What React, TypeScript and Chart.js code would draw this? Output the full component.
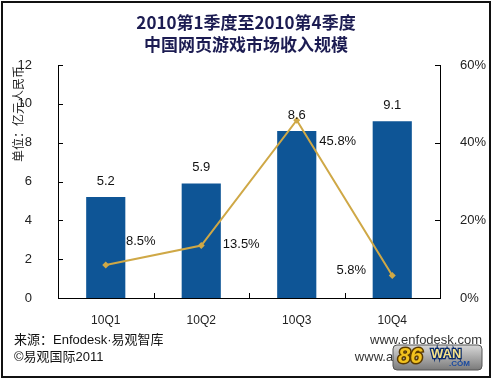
import React, { useEffect, useRef } from "react";
import { Chart, registerables } from "chart.js";

Chart.register(...registerables);

const categories = ["10Q1", "10Q2", "10Q3", "10Q4"];
const revenue = [5.2, 5.9, 8.6, 9.1];
const growth = [8.5, 13.5, 45.8, 5.8];
const revenueLabels = ["5.2", "5.9", "8.6", "9.1"];
const growthLabels = ["8.5%", "13.5%", "45.8%", "5.8%"];
const titleLines = ["2010第1季度至2010第4季度", "中国网页游戏市场收入规模"];
const yTitle = "单位：亿元人民币";
const footerLeft = ["来源：Enfodesk·易观智库", "©易观国际2011"];
const footerRight = ["www.enfodesk.com", "www.analysys.com.cn"];

const W = 492;
const H = 379;
const LATIN = "'Liberation Sans', Arial, 'Noto Sans CJK SC', sans-serif";
const CJK = "'Noto Sans CJK SC', 'Liberation Sans', sans-serif";

// label offsets relative to each line point (dx, dy)
const growthLabelOffsets: [number, number][] = [
  [35, -24],
  [40, -1],
  [41, 21],
  [-41, -5],
];

const decorPlugin = {
  id: "decor",
  beforeDraw(chart: any) {
    const ctx = chart.ctx;
    ctx.save();
    ctx.fillStyle = "#ffffff";
    ctx.fillRect(0, 0, W, H);
    ctx.restore();
  },
  afterDraw(chart: any) {
    const ctx = chart.ctx;
    const x = chart.scales.x;
    const y = chart.scales.y;
    const y1 = chart.scales.y1;
    ctx.save();
    // frame
    ctx.strokeStyle = "#111";
    ctx.lineWidth = 2;
    ctx.strokeRect(2, 2, 488, 375);

    // inward tick marks
    ctx.strokeStyle = "#000";
    ctx.lineWidth = 1;
    ctx.beginPath();
    y.ticks.forEach((t: any) => {
      const py = Math.round(y.getPixelForValue(t.value)) + 0.5;
      ctx.moveTo(x.left, py);
      ctx.lineTo(x.left + 5, py);
    });
    y1.ticks.forEach((t: any) => {
      const py = Math.round(y1.getPixelForValue(t.value)) + 0.5;
      ctx.moveTo(x.right, py);
      ctx.lineTo(x.right - 5, py);
    });
    for (let i = 0; i < categories.length - 1; i++) {
      const px = Math.round((x.getPixelForValue(i) + x.getPixelForValue(i + 1)) / 2) + 0.5;
      ctx.moveTo(px, y.bottom);
      ctx.lineTo(px, y.bottom - 5);
    }
    ctx.stroke();

    // title
    ctx.fillStyle = "#1c1c52";
    ctx.font = `bold 17px ${CJK}`;
    ctx.textAlign = "center";
    ctx.textBaseline = "middle";
    ctx.fillText(titleLines[0], W / 2, 23);
    ctx.fillText(titleLines[1], W / 2, 45);

    // y axis title
    ctx.save();
    ctx.translate(18, 114);
    ctx.rotate(-Math.PI / 2);
    ctx.fillStyle = "#222";
    ctx.font = `12px ${CJK}`;
    ctx.textAlign = "center";
    ctx.textBaseline = "middle";
    ctx.fillText(yTitle, 0, 0);
    ctx.restore();

    // data labels
    ctx.fillStyle = "#111";
    ctx.font = `13px ${LATIN}`;
    ctx.textAlign = "center";
    ctx.textBaseline = "middle";
    const barMeta = chart.getDatasetMeta(0);
    barMeta.data.forEach((el: any, i: number) => {
      ctx.fillText(revenueLabels[i], el.x, el.y - 16);
    });
    const lineMeta = chart.getDatasetMeta(1);
    lineMeta.data.forEach((el: any, i: number) => {
      const [dx, dy] = growthLabelOffsets[i];
      ctx.fillText(growthLabels[i], el.x + dx, el.y + dy);
    });

    // footer
    ctx.fillStyle = "#111";
    ctx.font = `13px ${LATIN}`;
    ctx.textAlign = "left";
    ctx.fillText(footerLeft[0], 14, 340);
    ctx.fillText(footerLeft[1], 14, 357);
    ctx.textAlign = "right";
    ctx.fillStyle = "#333";
    ctx.fillText(footerRight[0], 482, 340);
    ctx.fillText(footerRight[1], 482, 357);

    // watermark logo
    const lx = 393, ly = 345, lw = 89, lh = 25;
    const g = ctx.createLinearGradient(0, ly, 0, ly + lh);
    g.addColorStop(0, "#d8d8d8");
    g.addColorStop(1, "#7a7a7a");
    ctx.beginPath();
    ctx.moveTo(lx + 4, ly);
    ctx.lineTo(lx + lw - 4, ly);
    ctx.quadraticCurveTo(lx + lw, ly, lx + lw, ly + 4);
    ctx.lineTo(lx + lw, ly + lh - 4);
    ctx.quadraticCurveTo(lx + lw, ly + lh, lx + lw - 4, ly + lh);
    ctx.lineTo(lx + 4, ly + lh);
    ctx.quadraticCurveTo(lx, ly + lh, lx, ly + lh - 4);
    ctx.lineTo(lx, ly + 4);
    ctx.quadraticCurveTo(lx, ly, lx + 4, ly);
    ctx.closePath();
    ctx.fillStyle = g;
    ctx.fill();
    ctx.strokeStyle = "#555";
    ctx.lineWidth = 1;
    ctx.stroke();
    ctx.textAlign = "left";
    ctx.font = `italic bold 22px ${LATIN}`;
    ctx.lineWidth = 3;
    ctx.strokeStyle = "#5a3a00";
    ctx.strokeText("86", lx + 5, ly + 12);
    ctx.fillStyle = "#f2c21e";
    ctx.fillText("86", lx + 5, ly + 12);
    ctx.font = `bold 13px ${LATIN}`;
    ctx.lineWidth = 2.5;
    ctx.strokeStyle = "#0a2a6a";
    ctx.strokeText("WAN", lx + 38, ly + 9);
    ctx.fillStyle = "#f6e28a";
    ctx.fillText("WAN", lx + 38, ly + 9);
    ctx.font = `bold 8px ${LATIN}`;
    ctx.fillStyle = "#1a4aa0";
    ctx.fillText(".COM", lx + 56, ly + 19);
    ctx.restore();
  },
};

export default function App() {
  const ref = useRef<HTMLCanvasElement>(null);
  useEffect(() => {
    document.body.style.margin = "0";
    const canvas = ref.current!;
    const chart = new Chart(canvas, {
      type: "bar",
      data: {
        labels: categories,
        datasets: [
          {
            type: "bar",
            data: revenue,
            backgroundColor: "#0e5596",
            borderWidth: 0,
            categoryPercentage: 1,
            barPercentage: 0.41,
            yAxisID: "y",
            order: 2,
          },
          {
            type: "line",
            data: growth,
            borderColor: "#cfa846",
            backgroundColor: "#cfa846",
            borderWidth: 2,
            pointStyle: "rectRot",
            pointRadius: 3.5,
            pointBorderWidth: 0,
            tension: 0,
            yAxisID: "y1",
            order: 1,
          },
        ],
      } as any,
      options: {
        animation: false,
        responsive: false,
        devicePixelRatio: 1,
        layout: { padding: { top: 65, left: 0, right: 0, bottom: 0 } },
        plugins: {
          legend: { display: false },
          title: { display: false },
          tooltip: { enabled: false },
        },
        scales: {
          x: {
            offset: true,
            grid: { display: false },
            border: { display: true, color: "#000", width: 1 },
            ticks: {
              color: "#222",
              font: { family: LATIN, size: 12 },
              padding: 7,
              maxRotation: 0,
            },
            afterFit: (s: any) => {
              s.height = 81;
            },
          },
          y: {
            position: "left",
            min: 0,
            max: 12,
            grid: { display: false },
            border: { display: true, color: "#000", width: 1 },
            ticks: {
              stepSize: 2,
              color: "#222",
              font: { family: LATIN, size: 13 },
              padding: 18,
            },
            afterFit: (s: any) => {
              s.width = 58;
            },
          },
          y1: {
            position: "right",
            min: 0,
            max: 60,
            grid: { display: false },
            border: { display: true, color: "#000", width: 1 },
            ticks: {
              stepSize: 20,
              color: "#222",
              font: { family: LATIN, size: 13 },
              padding: 12,
              callback: (v: any) => v + "%",
            },
            afterFit: (s: any) => {
              s.width = 52;
            },
          },
        },
      } as any,
      plugins: [decorPlugin],
    });
    return () => chart.destroy();
  }, []);
  return (
    <div style={{ width: W, height: H }}>
      <canvas ref={ref} width={W} height={H} style={{ display: "block" }} />
    </div>
  );
}
